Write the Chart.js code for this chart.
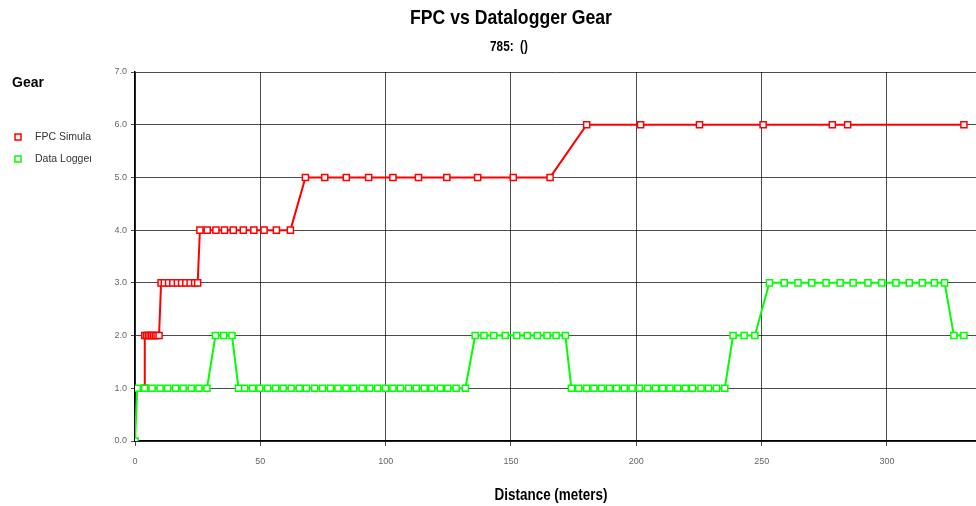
<!DOCTYPE html>
<html>
<head>
<meta charset="utf-8">
<title>FPC vs Datalogger Gear</title>
<script src="https://cdn.jsdelivr.net/npm/chart.js@4/dist/chart.umd.min.js"></script>
<style>
  html, body { margin: 0; padding: 0; background: #fff; }
  #wrap { width: 976px; height: 506px; overflow: hidden; }
</style>
</head>
<body>
<!-- canvas is a little wider than the frame so the plot runs off the right edge -->
<div id="wrap"><canvas id="gearChart" width="983" height="506"></canvas></div>
<script>
// distance (m) and gear for the FPC simulation run
const fpcDist = [3.9, 3.9, 4.6, 5.3, 6.0, 6.7, 7.4, 8.1, 8.8, 9.6,
  10.4, 11.7, 13.4, 15.1, 16.9, 18.6, 20.3, 22.0, 23.8, 25.0,
  25.9, 28.8, 32.3, 35.7, 39.2, 43.2, 47.4, 51.5, 56.4, 62.0,
  68.0, 75.7, 84.3, 93.2, 102.9, 113.1, 124.4, 136.7, 150.9, 165.6,
  180.2, 201.7, 225.2, 250.6, 278.2, 284.3, 330.7];
const fpcGear = [1, 2, 2, 2, 2, 2, 2, 2, 2, 2,
  3, 3, 3, 3, 3, 3, 3, 3, 3, 3,
  4, 4, 4, 4, 4, 4, 4, 4, 4, 4,
  5, 5, 5, 5, 5, 5, 5, 5, 5, 5,
  6, 6, 6, 6, 6, 6, 6];

// distance (m) and gear recorded by the data logger
const logDist = [0, 0.9, 3.9, 6.8, 10.0, 13.0, 16.2, 19.2, 22.4, 25.5, 28.7,
  32.1, 35.4, 38.7,
  41.3, 43.8, 46.9, 49.8, 52.9, 56.1, 59.1, 62.3, 65.5, 68.4, 71.7, 74.8, 78.0, 81.0, 84.2,
  87.3, 90.6, 93.6, 96.8, 99.9, 102.9, 105.9, 109.2, 112.2, 115.4, 118.4, 121.8, 124.8, 128.1, 131.8,
  135.7, 139.2, 143.1, 147.7, 152.3, 156.5, 160.5, 164.4, 168.0, 171.7,
  174.1, 177.0, 180.2, 183.1, 186.1, 189.2, 192.1, 195.2, 198.3, 201.2, 204.5,
  207.6, 210.5, 213.4, 216.5, 219.5, 222.4, 225.8, 228.8, 232.0, 235.3,
  238.6, 243.0, 247.3,
  253.1, 259.0, 264.5, 270.0, 275.7, 281.3, 286.5, 292.4, 297.9, 303.6, 308.9, 314.1, 318.9, 323.0,
  326.7, 330.7];
const logGear = [0, 1, 1, 1, 1, 1, 1, 1, 1, 1, 1,
  2, 2, 2,
  1, 1, 1, 1, 1, 1, 1, 1, 1, 1, 1, 1, 1, 1, 1,
  1, 1, 1, 1, 1, 1, 1, 1, 1, 1, 1, 1, 1, 1, 1,
  2, 2, 2, 2, 2, 2, 2, 2, 2, 2,
  1, 1, 1, 1, 1, 1, 1, 1, 1, 1, 1,
  1, 1, 1, 1, 1, 1, 1, 1, 1, 1,
  2, 2, 2,
  3, 3, 3, 3, 3, 3, 3, 3, 3, 3, 3, 3, 3, 3,
  2, 2];

const seriesNames = ["FPC Simulation", "Data Logger"];
const seriesColors = ["#ff0000", "#00ff00"];
const xTicks = [0, 50, 100, 150, 200, 250, 300];
const yTicks = [0, 1, 2, 3, 4, 5, 6, 7];

function toPoints(xs, ys){
  return xs.map((x, i) => ({x: x, y: ys[i]}));
}

const sans = '"Liberation Sans", Arial, sans-serif';

// bold text squeezed horizontally, like a narrow face
function narrowText(ctx, text, x, y, size, squeeze){
  ctx.save();
  ctx.translate(x, y);
  ctx.scale(squeeze, 1);
  ctx.font = "bold " + size + "px " + sans;
  ctx.textAlign = "center";
  ctx.textBaseline = "middle";
  ctx.fillText(text, 0, 0);
  ctx.restore();
}

// titles, axis caption, "Gear" label and the left-hand legend
const sideText = {
  id: "sideText",
  afterDraw(chart){
    const ctx = chart.ctx;
    ctx.save();
    ctx.fillStyle = "#000";
    narrowText(ctx, "FPC vs Datalogger Gear", 511, 18, 21, 0.84);
    narrowText(ctx, "785:  ()", 509, 47, 14, 0.84);
    narrowText(ctx, "Distance (meters)", 551, 496, 16, 0.84);

    ctx.textAlign = "left";
    ctx.textBaseline = "middle";
    ctx.font = "bold 14px " + sans;
    ctx.fillText("Gear", 12, 83);

    // legend entries, text clipped at the legend box edge
    chart.data.datasets.forEach((ds, i) => {
      const y = 137 + i * 22;
      ctx.lineWidth = 1.5;
      ctx.strokeStyle = ds.borderColor;
      ctx.fillStyle = "#fff";
      ctx.fillRect(15, y - 3, 6, 6);
      ctx.strokeRect(15, y - 3, 6, 6);
      ctx.save();
      ctx.beginPath();
      ctx.rect(30, y - 10, 61, 20);
      ctx.clip();
      ctx.fillStyle = "#333";
      ctx.font = "10.5px " + sans;
      ctx.fillText(ds.label, 35, y);
      ctx.restore();
    });
    ctx.restore();
  }
};

new Chart(document.getElementById("gearChart"), {
  type: "line",
  data: {
    datasets: [
      {
        label: seriesNames[0],
        data: toPoints(fpcDist, fpcGear),
        borderColor: seriesColors[0],
        order: 2
      },
      {
        label: seriesNames[1],
        data: toPoints(logDist, logGear),
        borderColor: seriesColors[1],
        order: 1
      }
    ].map(ds => Object.assign(ds, {
      backgroundColor: "#fff",
      borderWidth: 2,
      pointStyle: "rect",
      pointRadius: 4.3,
      pointBorderWidth: 1.5,
      pointBackgroundColor: "#fff",
      pointBorderColor: ds.borderColor,
      tension: 0,
      fill: false
    }))
  },
  options: {
    responsive: false,
    animation: false,
    events: [],
    layout: { padding: { top: 72, left: 0, right: 0, bottom: 0 } },
    plugins: {
      legend: { display: false },
      title: { display: false },
      tooltip: { enabled: false }
    },
    scales: {
      x: {
        type: "linear",
        min: 0,
        max: 336,
        afterFit: s => { s.height = 65; },
        afterBuildTicks: s => { s.ticks = xTicks.map(v => ({value: v})); },
        ticks: {
          color: "#666",
          font: { size: 9, family: sans },
          padding: 10,
          maxRotation: 0,
          callback: v => String(v)
        },
        grid: { color: "rgba(0,0,0,0.7)", lineWidth: 1, tickLength: 5 },
        border: { color: "#000", width: 1.5 }
      },
      y: {
        min: 0,
        max: 7,
        afterFit: s => { s.width = 135; },
        afterBuildTicks: s => { s.ticks = yTicks.map(v => ({value: v})); },
        ticks: {
          color: "#666",
          font: { size: 9, family: sans },
          padding: 4,
          callback: v => v.toFixed(1)
        },
        grid: { color: "rgba(0,0,0,0.7)", lineWidth: 1, tickLength: 4 },
        border: { color: "#000", width: 1.5 }
      }
    }
  },
  plugins: [sideText]
});
</script>
</body>
</html>
